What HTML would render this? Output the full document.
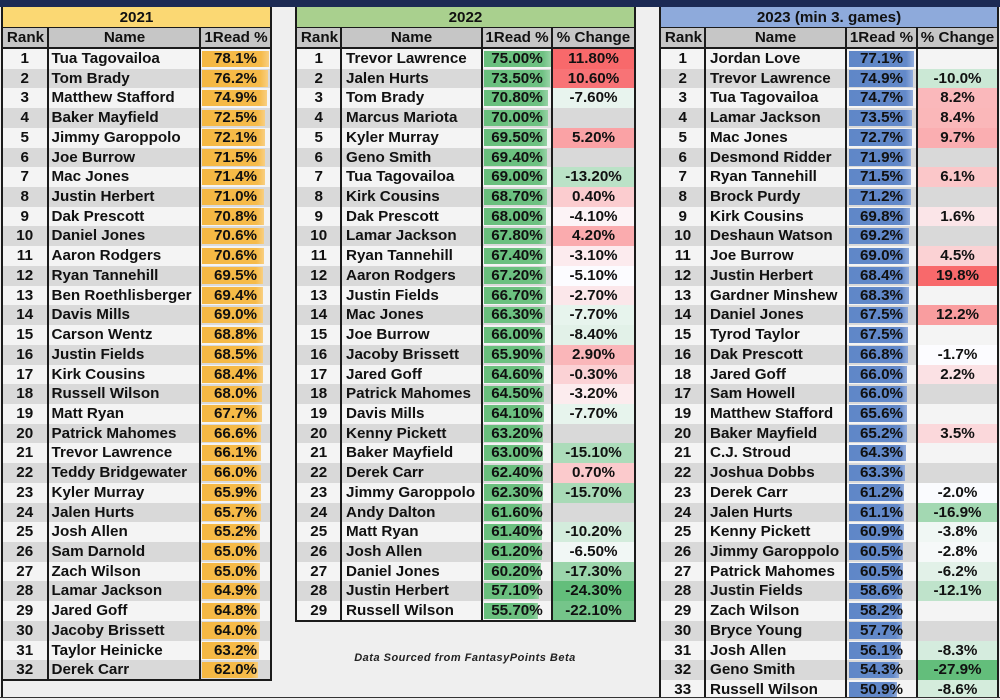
<!DOCTYPE html>
<html><head><meta charset="utf-8"><style>
*{box-sizing:border-box}
body{margin:0;width:1000px;height:699px;background:#efefef;position:relative;overflow:hidden;font-family:"Liberation Sans",Arial,sans-serif;font-weight:bold;font-size:15.2px;color:#111}
.top{position:absolute;left:0;top:0;width:1000px;height:6.5px;background:#1c2a54}
.ttl{position:absolute;top:7px;height:20px;line-height:21px;text-align:center}
.hd{position:absolute;top:28px;height:19px;background:#c6c6c6}
.hd span{position:absolute;top:0;line-height:20px;text-align:center;white-space:nowrap}
#rows{position:absolute;left:0;top:49px;width:1000px}
.r{position:relative;height:19.72px}
.r>div{position:absolute;top:0;height:19.72px}
.o>div{background:#f4f4f4}.e>div{background:#d9d9d9}
.a{left:3px;width:267px}.b{left:297px;width:337px}.g{left:661px;width:336px}
.r span{position:absolute;top:0;height:19.72px;line-height:19.72px;white-space:nowrap}
.k{left:0;width:43.5px;text-align:center}
.a .n{left:48.5px}.b .n,.g .n{left:49px}
.v{text-align:center}
.a .v{left:198px;width:69px}.b .v{left:186px;width:68px}.g .v{left:186px;width:69px}
.b .c{left:256px;width:81px;text-align:center}.g .c{left:257px;width:79px;text-align:center}
.r i{position:absolute;top:1.5px;height:16.5px}
.a i{left:199px;background:linear-gradient(90deg,#f5b843 0%,#f6bb4a 88%,#f8cf82 100%)}
.b i{left:187px;background:linear-gradient(90deg,#69bf7d 0%,#6ec182 88%,#98d3a6 100%)}
.g i{left:187.5px;background:linear-gradient(90deg,#5f87c8 0%,#6389c9 88%,#93addc 100%)}
.ln{position:absolute;background:#1b1b1b}
.foot{position:absolute;left:300px;width:330px;top:652px;text-align:center;font-style:italic;font-size:11px;letter-spacing:0.5px;color:#222}
</style></head><body>
<div class="top"></div>

<div class="ttl" style="left:1px;width:271px;background:#fbd873">2021</div>
<div class="ttl" style="left:295px;width:341px;background:#a9d08e">2022</div>
<div class="ttl" style="left:659px;width:340px;background:#8eaadb">2023 (min 3. games)</div>

<div class="hd" style="left:1px;width:271px"><span style="left:2px;width:45px">Rank</span><span style="left:48px;width:151px">Name</span><span style="left:200px;width:70px">1Read %</span></div>
<div class="hd" style="left:295px;width:341px"><span style="left:2px;width:45px">Rank</span><span style="left:47px;width:139px">Name</span><span style="left:188px;width:68px">1Read %</span><span style="left:258px;width:81px">% Change</span></div>
<div class="hd" style="left:659px;width:340px"><span style="left:2px;width:45px">Rank</span><span style="left:47px;width:139px">Name</span><span style="left:188px;width:69px">1Read %</span><span style="left:259px;width:79px">% Change</span></div>

<div id="rows">
<div class="r o"><div class="a"><span class="k">1</span><span class="n">Tua Tagovailoa</span><i style="width:67.1px"></i><span class="v">78.1%</span></div><div class="b"><span class="k">1</span><span class="n">Trevor Lawrence</span><i style="width:67px"></i><span class="v">75.00%</span><span class="c" style="background:#f8696b">11.80%</span></div><div class="g"><span class="k">1</span><span class="n">Jordan Love</span><i style="width:65.9px"></i><span class="v">77.1%</span></div></div>
<div class="r e"><div class="a"><span class="k">2</span><span class="n">Tom Brady</span><i style="width:65.8px"></i><span class="v">76.2%</span></div><div class="b"><span class="k">2</span><span class="n">Jalen Hurts</span><i style="width:66px"></i><span class="v">73.50%</span><span class="c" style="background:#f87376">10.60%</span></div><div class="g"><span class="k">2</span><span class="n">Trevor Lawrence</span><i style="width:64.4px"></i><span class="v">74.9%</span><span class="c" style="background:#cbe8d5">-10.0%</span></div></div>
<div class="r o"><div class="a"><span class="k">3</span><span class="n">Matthew Stafford</span><i style="width:64.9px"></i><span class="v">74.9%</span></div><div class="b"><span class="k">3</span><span class="n">Tom Brady</span><i style="width:64.2px"></i><span class="v">70.80%</span><span class="c" style="background:#e8f4ee">-7.60%</span></div><div class="g"><span class="k">3</span><span class="n">Tua Tagovailoa</span><i style="width:64.3px"></i><span class="v">74.7%</span><span class="c" style="background:#fab8bb">8.2%</span></div></div>
<div class="r e"><div class="a"><span class="k">4</span><span class="n">Baker Mayfield</span><i style="width:63.3px"></i><span class="v">72.5%</span></div><div class="b"><span class="k">4</span><span class="n">Marcus Mariota</span><i style="width:63.7px"></i><span class="v">70.00%</span></div><div class="g"><span class="k">4</span><span class="n">Lamar Jackson</span><i style="width:63.5px"></i><span class="v">73.5%</span><span class="c" style="background:#fab7b9">8.4%</span></div></div>
<div class="r o"><div class="a"><span class="k">5</span><span class="n">Jimmy Garoppolo</span><i style="width:63px"></i><span class="v">72.1%</span></div><div class="b"><span class="k">5</span><span class="n">Kyler Murray</span><i style="width:63.3px"></i><span class="v">69.50%</span><span class="c" style="background:#faa2a5">5.20%</span></div><div class="g"><span class="k">5</span><span class="n">Mac Jones</span><i style="width:63px"></i><span class="v">72.7%</span><span class="c" style="background:#faaeb1">9.7%</span></div></div>
<div class="r e"><div class="a"><span class="k">6</span><span class="n">Joe Burrow</span><i style="width:62.6px"></i><span class="v">71.5%</span></div><div class="b"><span class="k">6</span><span class="n">Geno Smith</span><i style="width:63.3px"></i><span class="v">69.40%</span></div><div class="g"><span class="k">6</span><span class="n">Desmond Ridder</span><i style="width:62.5px"></i><span class="v">71.9%</span></div></div>
<div class="r o"><div class="a"><span class="k">7</span><span class="n">Mac Jones</span><i style="width:62.6px"></i><span class="v">71.4%</span></div><div class="b"><span class="k">7</span><span class="n">Tua Tagovailoa</span><i style="width:63px"></i><span class="v">69.00%</span><span class="c" style="background:#bbe2c7">-13.20%</span></div><div class="g"><span class="k">7</span><span class="n">Ryan Tannehill</span><i style="width:62.2px"></i><span class="v">71.5%</span><span class="c" style="background:#fbc7c9">6.1%</span></div></div>
<div class="r e"><div class="a"><span class="k">8</span><span class="n">Justin Herbert</span><i style="width:62.3px"></i><span class="v">71.0%</span></div><div class="b"><span class="k">8</span><span class="n">Kirk Cousins</span><i style="width:62.8px"></i><span class="v">68.70%</span><span class="c" style="background:#fbcccf">0.40%</span></div><div class="g"><span class="k">8</span><span class="n">Brock Purdy</span><i style="width:62px"></i><span class="v">71.2%</span></div></div>
<div class="r o"><div class="a"><span class="k">9</span><span class="n">Dak Prescott</span><i style="width:62.1px"></i><span class="v">70.8%</span></div><div class="b"><span class="k">9</span><span class="n">Dak Prescott</span><i style="width:62.3px"></i><span class="v">68.00%</span><span class="c" style="background:#fcf3f6">-4.10%</span></div><div class="g"><span class="k">9</span><span class="n">Kirk Cousins</span><i style="width:61.1px"></i><span class="v">69.8%</span><span class="c" style="background:#fbe5e8">1.6%</span></div></div>
<div class="r e"><div class="a"><span class="k">10</span><span class="n">Daniel Jones</span><i style="width:62px"></i><span class="v">70.6%</span></div><div class="b"><span class="k">10</span><span class="n">Lamar Jackson</span><i style="width:62.2px"></i><span class="v">67.80%</span><span class="c" style="background:#faabae">4.20%</span></div><div class="g"><span class="k">10</span><span class="n">Deshaun Watson</span><i style="width:60.7px"></i><span class="v">69.2%</span></div></div>
<div class="r o"><div class="a"><span class="k">11</span><span class="n">Aaron Rodgers</span><i style="width:62px"></i><span class="v">70.6%</span></div><div class="b"><span class="k">11</span><span class="n">Ryan Tannehill</span><i style="width:61.9px"></i><span class="v">67.40%</span><span class="c" style="background:#fcebee">-3.10%</span></div><div class="g"><span class="k">11</span><span class="n">Joe Burrow</span><i style="width:60.5px"></i><span class="v">69.0%</span><span class="c" style="background:#fbd2d4">4.5%</span></div></div>
<div class="r e"><div class="a"><span class="k">12</span><span class="n">Ryan Tannehill</span><i style="width:61.3px"></i><span class="v">69.5%</span></div><div class="b"><span class="k">12</span><span class="n">Aaron Rodgers</span><i style="width:61.8px"></i><span class="v">67.20%</span><span class="c" style="background:#fcfcff">-5.10%</span></div><div class="g"><span class="k">12</span><span class="n">Justin Herbert</span><i style="width:60.1px"></i><span class="v">68.4%</span><span class="c" style="background:#f8696b">19.8%</span></div></div>
<div class="r o"><div class="a"><span class="k">13</span><span class="n">Ben Roethlisberger</span><i style="width:61.2px"></i><span class="v">69.4%</span></div><div class="b"><span class="k">13</span><span class="n">Justin Fields</span><i style="width:61.5px"></i><span class="v">66.70%</span><span class="c" style="background:#fbe7ea">-2.70%</span></div><div class="g"><span class="k">13</span><span class="n">Gardner Minshew</span><i style="width:60.1px"></i><span class="v">68.3%</span></div></div>
<div class="r e"><div class="a"><span class="k">14</span><span class="n">Davis Mills</span><i style="width:60.9px"></i><span class="v">69.0%</span></div><div class="b"><span class="k">14</span><span class="n">Mac Jones</span><i style="width:61.2px"></i><span class="v">66.30%</span><span class="c" style="background:#e7f4ed">-7.70%</span></div><div class="g"><span class="k">14</span><span class="n">Daniel Jones</span><i style="width:59.6px"></i><span class="v">67.5%</span><span class="c" style="background:#f99d9f">12.2%</span></div></div>
<div class="r o"><div class="a"><span class="k">15</span><span class="n">Carson Wentz</span><i style="width:60.8px"></i><span class="v">68.8%</span></div><div class="b"><span class="k">15</span><span class="n">Joe Burrow</span><i style="width:61px"></i><span class="v">66.00%</span><span class="c" style="background:#e2f1e8">-8.40%</span></div><div class="g"><span class="k">15</span><span class="n">Tyrod Taylor</span><i style="width:59.6px"></i><span class="v">67.5%</span></div></div>
<div class="r e"><div class="a"><span class="k">16</span><span class="n">Justin Fields</span><i style="width:60.6px"></i><span class="v">68.5%</span></div><div class="b"><span class="k">16</span><span class="n">Jacoby Brissett</span><i style="width:60.9px"></i><span class="v">65.90%</span><span class="c" style="background:#fab6b9">2.90%</span></div><div class="g"><span class="k">16</span><span class="n">Dak Prescott</span><i style="width:59.1px"></i><span class="v">66.8%</span><span class="c" style="background:#fcfcff">-1.7%</span></div></div>
<div class="r o"><div class="a"><span class="k">17</span><span class="n">Kirk Cousins</span><i style="width:60.5px"></i><span class="v">68.4%</span></div><div class="b"><span class="k">17</span><span class="n">Jared Goff</span><i style="width:60px"></i><span class="v">64.60%</span><span class="c" style="background:#fbd2d5">-0.30%</span></div><div class="g"><span class="k">18</span><span class="n">Jared Goff</span><i style="width:58.6px"></i><span class="v">66.0%</span><span class="c" style="background:#fbe1e4">2.2%</span></div></div>
<div class="r e"><div class="a"><span class="k">18</span><span class="n">Russell Wilson</span><i style="width:60.2px"></i><span class="v">68.0%</span></div><div class="b"><span class="k">18</span><span class="n">Patrick Mahomes</span><i style="width:60px"></i><span class="v">64.50%</span><span class="c" style="background:#fcecee">-3.20%</span></div><div class="g"><span class="k">17</span><span class="n">Sam Howell</span><i style="width:58.6px"></i><span class="v">66.0%</span></div></div>
<div class="r o"><div class="a"><span class="k">19</span><span class="n">Matt Ryan</span><i style="width:60px"></i><span class="v">67.7%</span></div><div class="b"><span class="k">19</span><span class="n">Davis Mills</span><i style="width:59.7px"></i><span class="v">64.10%</span><span class="c" style="background:#e7f4ed">-7.70%</span></div><div class="g"><span class="k">19</span><span class="n">Matthew Stafford</span><i style="width:58.3px"></i><span class="v">65.6%</span></div></div>
<div class="r e"><div class="a"><span class="k">20</span><span class="n">Patrick Mahomes</span><i style="width:59.3px"></i><span class="v">66.6%</span></div><div class="b"><span class="k">20</span><span class="n">Kenny Pickett</span><i style="width:59.1px"></i><span class="v">63.20%</span></div><div class="g"><span class="k">20</span><span class="n">Baker Mayfield</span><i style="width:58px"></i><span class="v">65.2%</span><span class="c" style="background:#fbd8db">3.5%</span></div></div>
<div class="r o"><div class="a"><span class="k">21</span><span class="n">Trevor Lawrence</span><i style="width:58.9px"></i><span class="v">66.1%</span></div><div class="b"><span class="k">21</span><span class="n">Baker Mayfield</span><i style="width:59px"></i><span class="v">63.00%</span><span class="c" style="background:#acdcba">-15.10%</span></div><div class="g"><span class="k">21</span><span class="n">C.J. Stroud</span><i style="width:57.4px"></i><span class="v">64.3%</span></div></div>
<div class="r e"><div class="a"><span class="k">22</span><span class="n">Teddy Bridgewater</span><i style="width:58.9px"></i><span class="v">66.0%</span></div><div class="b"><span class="k">22</span><span class="n">Derek Carr</span><i style="width:58.6px"></i><span class="v">62.40%</span><span class="c" style="background:#fbcacc">0.70%</span></div><div class="g"><span class="k">22</span><span class="n">Joshua Dobbs</span><i style="width:56.8px"></i><span class="v">63.3%</span></div></div>
<div class="r o"><div class="a"><span class="k">23</span><span class="n">Kyler Murray</span><i style="width:58.8px"></i><span class="v">65.9%</span></div><div class="b"><span class="k">23</span><span class="n">Jimmy Garoppolo</span><i style="width:58.5px"></i><span class="v">62.30%</span><span class="c" style="background:#a8dab6">-15.70%</span></div><div class="g"><span class="k">23</span><span class="n">Derek Carr</span><i style="width:55.4px"></i><span class="v">61.2%</span><span class="c" style="background:#fafbfe">-2.0%</span></div></div>
<div class="r e"><div class="a"><span class="k">24</span><span class="n">Jalen Hurts</span><i style="width:58.7px"></i><span class="v">65.7%</span></div><div class="b"><span class="k">24</span><span class="n">Andy Dalton</span><i style="width:58px"></i><span class="v">61.60%</span></div><div class="g"><span class="k">24</span><span class="n">Jalen Hurts</span><i style="width:55.3px"></i><span class="v">61.1%</span><span class="c" style="background:#a3d8b2">-16.9%</span></div></div>
<div class="r o"><div class="a"><span class="k">25</span><span class="n">Josh Allen</span><i style="width:58.3px"></i><span class="v">65.2%</span></div><div class="b"><span class="k">25</span><span class="n">Matt Ryan</span><i style="width:57.9px"></i><span class="v">61.40%</span><span class="c" style="background:#d3ecdc">-10.20%</span></div><div class="g"><span class="k">25</span><span class="n">Kenny Pickett</span><i style="width:55.2px"></i><span class="v">60.9%</span><span class="c" style="background:#f0f7f4">-3.8%</span></div></div>
<div class="r e"><div class="a"><span class="k">26</span><span class="n">Sam Darnold</span><i style="width:58.2px"></i><span class="v">65.0%</span></div><div class="b"><span class="k">26</span><span class="n">Josh Allen</span><i style="width:57.8px"></i><span class="v">61.20%</span><span class="c" style="background:#f1f7f5">-6.50%</span></div><div class="g"><span class="k">26</span><span class="n">Jimmy Garoppolo</span><i style="width:54.9px"></i><span class="v">60.5%</span><span class="c" style="background:#f6f9f9">-2.8%</span></div></div>
<div class="r o"><div class="a"><span class="k">27</span><span class="n">Zach Wilson</span><i style="width:58.2px"></i><span class="v">65.0%</span></div><div class="b"><span class="k">27</span><span class="n">Daniel Jones</span><i style="width:57.1px"></i><span class="v">60.20%</span><span class="c" style="background:#9bd5ab">-17.30%</span></div><div class="g"><span class="k">27</span><span class="n">Patrick Mahomes</span><i style="width:54.9px"></i><span class="v">60.5%</span><span class="c" style="background:#e2f1e8">-6.2%</span></div></div>
<div class="r e"><div class="a"><span class="k">28</span><span class="n">Lamar Jackson</span><i style="width:58.1px"></i><span class="v">64.9%</span></div><div class="b"><span class="k">28</span><span class="n">Justin Herbert</span><i style="width:55px"></i><span class="v">57.10%</span><span class="c" style="background:#63be7b">-24.30%</span></div><div class="g"><span class="k">28</span><span class="n">Justin Fields</span><i style="width:53.7px"></i><span class="v">58.6%</span><span class="c" style="background:#bfe3cb">-12.1%</span></div></div>
<div class="r o"><div class="a"><span class="k">29</span><span class="n">Jared Goff</span><i style="width:58.1px"></i><span class="v">64.8%</span></div><div class="b"><span class="k">29</span><span class="n">Russell Wilson</span><i style="width:54px"></i><span class="v">55.70%</span><span class="c" style="background:#75c58a">-22.10%</span></div><div class="g"><span class="k">29</span><span class="n">Zach Wilson</span><i style="width:53.4px"></i><span class="v">58.2%</span></div></div>
<div class="r e"><div class="a"><span class="k">30</span><span class="n">Jacoby Brissett</span><i style="width:57.5px"></i><span class="v">64.0%</span></div><div class="g"><span class="k">30</span><span class="n">Bryce Young</span><i style="width:53.1px"></i><span class="v">57.7%</span></div></div>
<div class="r o"><div class="a"><span class="k">31</span><span class="n">Taylor Heinicke</span><i style="width:57px"></i><span class="v">63.2%</span></div><div class="g"><span class="k">31</span><span class="n">Josh Allen</span><i style="width:52px"></i><span class="v">56.1%</span><span class="c" style="background:#d5ecde">-8.3%</span></div></div>
<div class="r e"><div class="a"><span class="k">32</span><span class="n">Derek Carr</span><i style="width:56.2px"></i><span class="v">62.0%</span></div><div class="g"><span class="k">32</span><span class="n">Geno Smith</span><i style="width:50.8px"></i><span class="v">54.3%</span><span class="c" style="background:#63be7b">-27.9%</span></div></div>
<div class="r o"><div class="g"><span class="k">33</span><span class="n">Russell Wilson</span><i style="width:48.6px"></i><span class="v">50.9%</span><span class="c" style="background:#d4ecdc">-8.6%</span></div></div>
</div>

<!-- table 1 lines -->
<div class="ln" style="left:1px;top:6.5px;width:2px;height:692px"></div>
<div class="ln" style="left:46.5px;top:27px;width:2px;height:653px"></div>
<div class="ln" style="left:199px;top:27px;width:2px;height:653px"></div>
<div class="ln" style="left:270px;top:6.5px;width:2px;height:674.5px"></div>
<div class="ln" style="left:1px;top:26.5px;width:271px;height:1.5px"></div>
<div class="ln" style="left:1px;top:47px;width:271px;height:2px"></div>
<div class="ln" style="left:1px;top:679px;width:271px;height:2px"></div>
<!-- table 2 lines -->
<div class="ln" style="left:295px;top:6.5px;width:2px;height:615px"></div>
<div class="ln" style="left:340px;top:27px;width:2px;height:594px"></div>
<div class="ln" style="left:481px;top:27px;width:2px;height:594px"></div>
<div class="ln" style="left:551px;top:27px;width:2px;height:594px"></div>
<div class="ln" style="left:634px;top:6.5px;width:2px;height:615px"></div>
<div class="ln" style="left:295px;top:26.5px;width:341px;height:1.5px"></div>
<div class="ln" style="left:295px;top:47px;width:341px;height:2px"></div>
<div class="ln" style="left:295px;top:619.5px;width:341px;height:2px"></div>
<!-- table 3 lines -->
<div class="ln" style="left:659px;top:6.5px;width:2px;height:692px"></div>
<div class="ln" style="left:704px;top:27px;width:2px;height:671px"></div>
<div class="ln" style="left:845px;top:27px;width:2px;height:671px"></div>
<div class="ln" style="left:916px;top:27px;width:2px;height:671px"></div>
<div class="ln" style="left:997px;top:6.5px;width:2px;height:692px"></div>
<div class="ln" style="left:659px;top:26.5px;width:340px;height:1.5px"></div>
<div class="ln" style="left:659px;top:47px;width:340px;height:2px"></div>
<!-- bottom frame -->
<div class="ln" style="left:0;top:696.5px;width:1000px;height:1.5px;background:#333"></div>
<div style="position:absolute;left:0;top:698px;width:1000px;height:1px;background:#efefef"></div>

<div class="foot">Data Sourced from FantasyPoints Beta</div>
</body></html>
